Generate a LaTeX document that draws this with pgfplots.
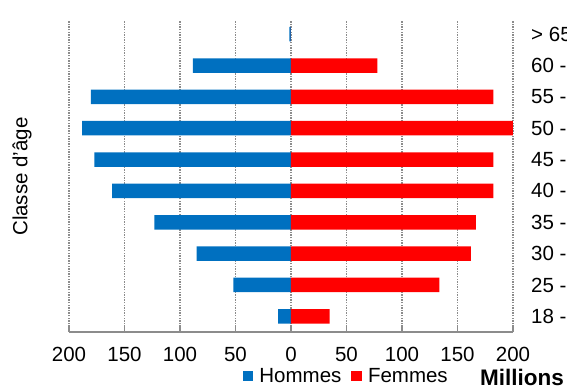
\documentclass[border=0pt]{standalone}
\usepackage{pgfplots}
\pgfplotsset{compat=1.18}
\usepackage{fontspec}
\setmainfont{Liberation Sans}

\definecolor{hommes}{RGB}{0,112,192}
\definecolor{femmes}{RGB}{255,0,0}
\definecolor{gridgray}{RGB}{140,140,140}

% Population by age class, in millions (men drawn to the left)
\pgfplotstableread{
y  hommes  femmes
0  -11.5   34.8
1  -52.0   133.6
2  -85.1   162.0
3  -123.0  166.5
4  -161.1  182.4
5  -177.1  182.4
6  -188.2  199.8
7  -180.3  182.4
8  -88.4   77.8
9  -1.5    0
}\pyramid

\begin{document}
\begin{tikzpicture}
\useasboundingbox (-69pt,-55pt) rectangle (498pt,332pt);
\clip (-69pt,-55pt) rectangle (498pt,332pt);
\begin{pgfinterruptboundingbox}
\begin{axis}[
  at={(0,0)}, anchor=south west,
  scale only axis,
  width=444pt, height=311pt,
  clip=false,
  font=\fontsize{20.5}{24}\selectfont,
  /pgf/number format/assume math mode=true,
  xbar, bar width=14.5pt, bar shift=0pt,
  xmin=-200, xmax=200,
  ymin=-0.5, ymax=9.42,
  xtick={-200,-150,...,200},
  xticklabel={\pgfmathparse{abs(\tick)}\pgfmathprintnumber{\pgfmathresult}},
  xticklabel style={inner sep=0pt, yshift=-15pt},
  ytick={0,...,9},
  yticklabels={18 - 24,25 - 29,30 - 34,35 - 39,40 - 44,45 - 49,50 - 54,55 - 59,60 - 64,> 65},
  yticklabel style={anchor=west, inner sep=0pt, xshift=12pt},
  axis x line*=bottom,
  axis y line*=right,
  x axis line style={draw=gridgray, line width=1.2pt, -},
  y axis line style={draw=none},
  xtick align=inside,
  major tick length=6pt,
  xtick style={draw=gridgray, line width=1.2pt},
  ytick style={draw=none},
  xmajorgrids,
  grid style={draw=gridgray, line width=1.3pt, dash pattern=on 1.3pt off 1.3pt},
  ylabel={Classe d'âge},
  every axis y label/.style={at={(axis description cs:-0.106,0.5)}, rotate=90, anchor=center},
  legend image code/.code={\fill[#1] (0pt,-5.3pt) rectangle (10.6pt,5.3pt);},
  legend columns=2,
  legend style={draw=none, fill=none, inner sep=0pt,
    at={(rel axis cs:0.391,0)}, anchor=west, yshift=-44pt,
    nodes={inner sep=0pt},
    /tikz/every odd column/.append style={column sep=6pt},
    /tikz/every even column/.append style={column sep=10pt}},
]
\addplot[fill=hommes, draw=none] table[x=hommes, y=y] {\pyramid};
\addplot[fill=femmes, draw=none] table[x=femmes, y=y] {\pyramid};
\legend{Hommes, Femmes}
\node[anchor=base west, inner sep=0pt, font=\fontsize{22.5}{26}\selectfont\bfseries, xshift=-33pt, yshift=-54pt]
  at (rel axis cs:1,0) {Millions};
\end{axis}
\end{pgfinterruptboundingbox}
\end{tikzpicture}
\end{document}
